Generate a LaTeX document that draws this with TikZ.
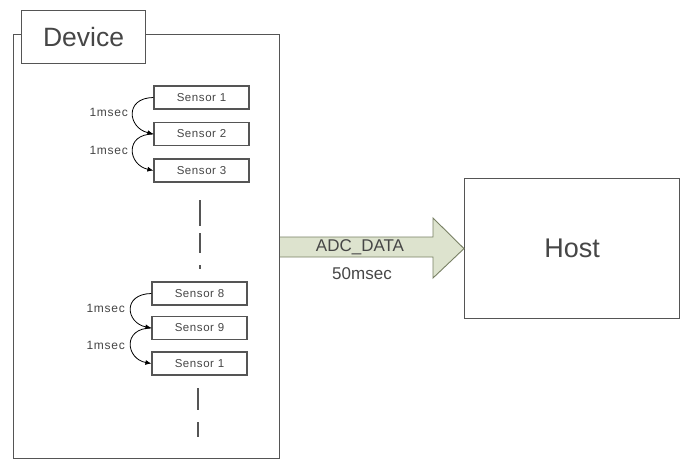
\documentclass[tikz,border=0pt]{standalone}
\usepackage{fontspec}
\setmainfont{Liberation Sans}
\usetikzlibrary{arrows.meta}
\definecolor{ln}{RGB}{85,85,85}
\definecolor{tx}{RGB}{70,70,70}
\definecolor{arrfill}{RGB}{221,227,206}
\definecolor{arrline}{RGB}{120,128,100}
\tikzset{
  box/.style={draw=ln, line width=1.2pt, fill=white, inner sep=0pt},
  sensorbox/.style={box, minimum width=95pt, minimum height=23pt, font=\fontsize{11.5}{13}\selectfont\addfontfeatures{LetterSpace=5}, text=tx},
  delay/.style={draw=black, line width=0.8pt, -{Latex[length=6pt,width=5pt]}},
  lbl/.style={text=tx, font=\fontsize{12}{14}\selectfont\addfontfeatures{LetterSpace=6}, inner sep=1pt},
  dashln/.style={draw=ln, line width=1.2pt}
}
\begin{document}
\begin{tikzpicture}[x=1pt,y=-1pt]
\useasboundingbox (0,0) rectangle (688,460);
% device outer box
\node[box, minimum width=266pt, minimum height=424pt, anchor=north west] (dev) at (13,34) {};
\node[box, minimum width=124pt, minimum height=53pt, anchor=north west, font=\fontsize{26.5}{30}\selectfont, text=tx] (devlbl) at (21,10) {Device};
% sensors upper
\node[sensorbox] (s1) at (201.5,97.5) {Sensor 1};
\node[sensorbox] (s2) at (201.5,134) {Sensor 2};
\node[sensorbox] (s3) at (201.5,170.5) {Sensor 3};
% sensors lower
\node[sensorbox] (s8) at (199.5,293.5) {Sensor 8};
\node[sensorbox] (s9) at (199.5,328) {Sensor 9};
\node[sensorbox] (s10) at (199.5,363.5) {Sensor 1};
% dashes
\coordinate (d1a) at (200,200); \coordinate (d1b) at (200,226);
\coordinate (d2a) at (200,233); \coordinate (d2b) at (200,253);
\coordinate (d3a) at (200,265); \coordinate (d3b) at (200,269);
\draw[dashln] (d1a) -- (d1b);
\draw[dashln] (d2a) -- (d2b);
\draw[dashln] (d3a) -- (d3b);
\coordinate (d4a) at (198,388); \coordinate (d4b) at (198,410);
\coordinate (d5a) at (198,422); \coordinate (d5b) at (198,437);
\draw[dashln] (d4a) -- (d4b);
\draw[dashln] (d5a) -- (d5b);
% delay curves
\draw[delay] (s1.west) .. controls (124,98) and (128,128) .. (s2.west);
\draw[delay] (s2.west) .. controls (124,134) and (128,165) .. (s3.west);
\draw[delay] (s8.west) .. controls (122,294) and (126,323) .. (s9.west);
\draw[delay] (s9.west) .. controls (122,328) and (126,359) .. (s10.west);
\node[lbl, anchor=east] (l1) at (129,112) {1msec};
\node[lbl, anchor=east] (l2) at (129,150) {1msec};
\node[lbl, anchor=east] (l3) at (126,308) {1msec};
\node[lbl, anchor=east] (l4) at (126,345) {1msec};
% host
\node[box, minimum width=215pt, minimum height=140pt, anchor=north west, font=\fontsize{27}{30}\selectfont, text=tx] (host) at (464,178) {Host};
% big arrow
\draw[draw=arrline, fill=arrfill, line width=0.9pt, line join=miter]
  (dev.east |- 0,237) -- (433,237) -- (433,218) -- (host.west) -- (433,278) -- (433,257) -- (dev.east |- 0,257);
\node[text=tx, font=\fontsize{17}{19}\selectfont] (adc) at (360,247) {ADC\_DATA};
\node[text=tx, font=\fontsize{17}{19}\selectfont] (t50) at (362,274) {50msec};
\end{tikzpicture}
\end{document}
